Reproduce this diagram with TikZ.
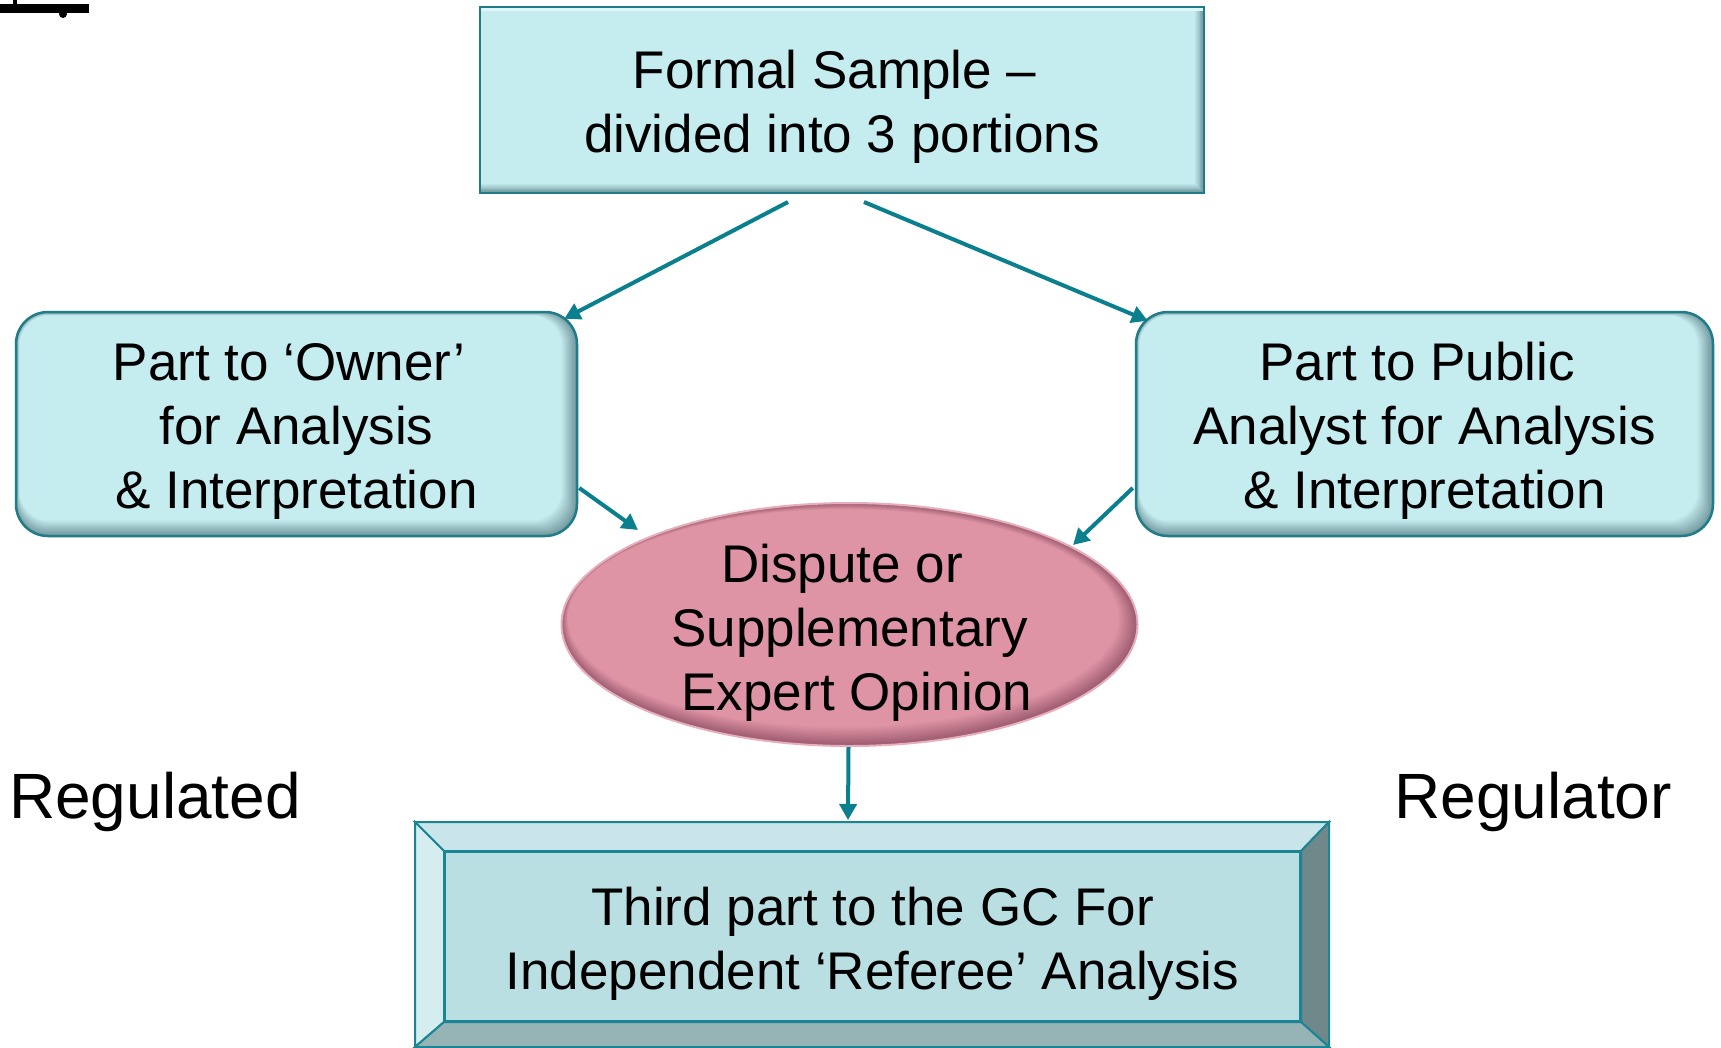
\documentclass[tikz,border=0pt]{standalone}
\usepackage{fontspec}
\setmainfont{Liberation Sans}
\usetikzlibrary{arrows.meta,shapes.geometric,calc}

\definecolor{boxfill}{HTML}{C5ECEF}
\definecolor{boxedge}{HTML}{1F7C88}
\definecolor{boxshade}{HTML}{6F979C}
\definecolor{arrowcol}{HTML}{0A808E}
\definecolor{pinkfill}{HTML}{DE94A5}
\definecolor{pinkshade}{HTML}{9E5C70}
\definecolor{pinkedge}{HTML}{E7AEBB}
\definecolor{refinner}{HTML}{BADFE3}
\definecolor{reftop}{HTML}{C9E5E9}
\definecolor{refleft}{HTML}{D6EDF0}
\definecolor{refright}{HTML}{6F888A}
\definecolor{refbottom}{HTML}{96B3B5}
\definecolor{refedge}{HTML}{1B8593}

% a space kept at the start or end of a line
\newcommand{\keptspace}{\hspace*{0.278em}}
% extra room above the first line of a text block
\newcommand{\leadstrut}{\rule{0pt}{52.5pt}}

\tikzset{
  bodytext/.style={font=\fontsize{53}{64}\selectfont, align=center, text=black},
  % flat box with a soft bevel on its lower and right edges
  samplebox/.style={rectangle, draw=boxedge, line width=2pt,
    minimum width=724pt, minimum height=186pt, inner sep=0pt, bodytext,
    path picture={
      \fill[boxshade] (path picture bounding box.south west) rectangle (path picture bounding box.north east);
      \foreach \i in {1,...,10}{
        \pgfmathsetmacro\mix{\i*10}
        \fill[boxfill!\mix!boxshade]
          (path picture bounding box.north west) rectangle
          ([shift={(-\i*0.9pt,\i*0.9pt)}]path picture bounding box.south east);
      }
      \fill[white!45!boxfill] (path picture bounding box.north west) rectangle
          ([shift={(0pt,-4pt)}]path picture bounding box.north east);
    }},
  % rounded pillow box
  partbox/.style={rectangle, rounded corners=32pt, draw=boxedge, line width=2.5pt,
    minimum width=561pt, minimum height=224pt, inner sep=0pt, bodytext,
    path picture={
      \fill[boxshade] (path picture bounding box.south west) rectangle (path picture bounding box.north east);
      \foreach \i in {1,...,14}{
        \pgfmathsetmacro\mix{\i*100/14}
        \fill[boxfill!\mix!boxshade, rounded corners=30pt]
          ([shift={(\i*0.25pt,-\i*0.25pt)}]path picture bounding box.north west) rectangle
          ([shift={(-\i*1.1pt,\i*1.1pt)}]path picture bounding box.south east);
      }
    }},
  disputeshape/.style={ellipse, draw=pinkedge, line width=2pt,
    minimum width=576pt, minimum height=243pt, inner sep=0pt,
    path picture={
      \fill[pinkshade] (path picture bounding box.center) ellipse [x radius=300pt, y radius=130pt];
      \foreach \i in {1,...,14}{
        \pgfmathsetmacro\mix{\i*100/14}
        \fill[pinkfill!\mix!pinkshade]
          ([shift={(-\i*0.45pt,\i*0.45pt)}]path picture bounding box.center)
          ellipse [x radius={288pt-\i*0.9pt}, y radius={121.5pt-\i*0.9pt}];
      }
    }},
  refbox/.style={rectangle, fill=refinner, draw=refedge, line width=2pt,
    minimum width=855pt, minimum height=169pt, inner sep=0pt, bodytext},
  bevel/.style={draw=refedge, line width=2pt, line join=miter},
  flow/.style={draw=arrowcol, line width=4pt,
    -{Triangle[length=16pt,width=17pt]}},
  sidelabel/.style={font=\fontsize{64}{72}\selectfont, inner sep=0pt, text=black}
}

\begin{document}
\begin{tikzpicture}[x=1pt,y=-1pt]
\useasboundingbox[fill=white] (0,0) rectangle (1721,1047);

% scrap of a black rule in the upper left corner
\fill[black] (0,4) rectangle (89,13);
\fill[black] (13,0) rectangle (17,4);
\fill[black] (63,14) circle (4);

% boxes
\node[samplebox] (sample) at (842,100) {\leadstrut Formal Sample –\keptspace\\divided into 3 portions};
\node[partbox] (owner) at (296.5,424) {\leadstrut Part to ‘Owner’\keptspace\\for Analysis\keptspace\\\& Interpretation};
\node[partbox, minimum width=577pt] (public) at (1424.5,424) {\leadstrut Part to Public\keptspace\\Analyst for Analysis\\\& Interpretation};
\node[disputeshape] (dispute) at (849.5,624.5) {};
\node[bodytext, inner sep=0pt] (disputetext) at ($(dispute.center)+(0,1)$)
  {\leadstrut Dispute or\keptspace\\Supplementary\\\keptspace Expert Opinion};

% referee box with its bevelled frame
\node[refbox] (referee) at (872.5,936.5) {\leadstrut Third part to the GC For\\Independent ‘Referee’ Analysis};
\coordinate (onw) at ($(referee.north west)+(-29,-29)$);
\coordinate (one) at ($(referee.north east)+(28,-29)$);
\coordinate (ose) at ($(referee.south east)+(28,25)$);
\coordinate (osw) at ($(referee.south west)+(-29,25)$);
\filldraw[bevel, fill=reftop] (onw) -- (one) -- (referee.north east) -- (referee.north west) -- cycle;
\filldraw[bevel, fill=refleft] (onw) -- (referee.north west) -- (referee.south west) -- (osw) -- cycle;
\filldraw[bevel, fill=refright] (one) -- (ose) -- (referee.south east) -- (referee.north east) -- cycle;
\filldraw[bevel, fill=refbottom] (osw) -- (referee.south west) -- (referee.south east) -- (ose) -- cycle;

% side labels
\node[sidelabel, anchor=base west] (regulated) at (9,818) {Regulated};
\node[sidelabel, anchor=base east] (regulator) at (1672,818) {Regulator};

% connectors
\draw[flow] ($(sample.south)+(-54,8)$) -- ($(owner.north east)+(-14,8)$);
\draw[flow] ($(sample.south)+(22,8)$) -- ($(public.north west)+(13,10)$);
\draw[flow] ($(owner.east)+(1,64)$) -- ($(dispute.center)+(-211.5,-94.5)$);
\draw[flow] ($(public.west)+(-2,64)$) -- ($(dispute.center)+(223.5,-79.5)$);
\draw[flow] ($(dispute.south)+(-1,0)$) -- ($(referee.north)+(-24.5,-31)$);
\end{tikzpicture}
\end{document}
